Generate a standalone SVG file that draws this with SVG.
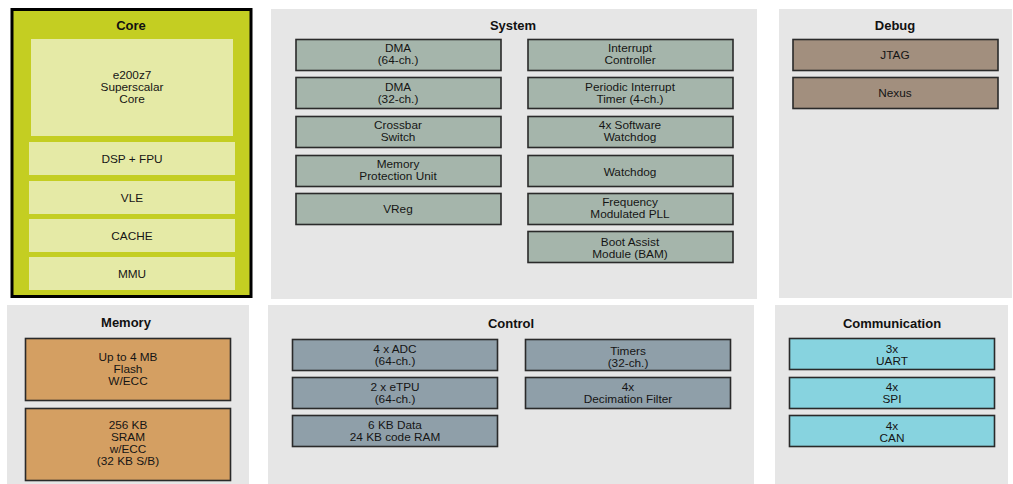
<svg xmlns="http://www.w3.org/2000/svg" width="1013" height="484" viewBox="0 0 1013 484">
<style>
.bg{fill:#ffffff}
.panel{fill:#e6e6e6}
.title{font-family:"Liberation Sans",Arial,sans-serif;font-size:13px;font-weight:bold;fill:#111;text-anchor:middle}
.lbl{font-family:"Liberation Sans",Arial,sans-serif;font-size:11.8px;fill:#151515;text-anchor:middle}
.box{stroke:#2a2a2a;stroke-width:1.6}
.sys{fill:#a5b5ab}
.dbg{fill:#a28f7e}
.mem{fill:#d49f62}
.ctl{fill:#8f9fa9}
.com{fill:#87d3df}
.cin{fill:#e5eaa6}
</style>
<rect class="bg" x="0" y="0" width="1013" height="484"/>

<g id="core">
  <rect x="12" y="9.5" width="239" height="287" fill="#c4ce22" stroke="#000" stroke-width="3"/>
  <text class="title" x="131" y="30">Core</text>
  <g id="core-e200"><rect class="cin" x="31" y="39" width="202" height="97"/>
    <text class="lbl" x="132" y="79">e200z7</text><text class="lbl" x="132" y="91">Superscalar</text><text class="lbl" x="132" y="103">Core</text></g>
  <g id="core-dsp"><rect class="cin" x="29" y="142" width="206" height="33"/><text class="lbl" x="132" y="163">DSP + FPU</text></g>
  <g id="core-vle"><rect class="cin" x="29" y="181" width="206" height="33"/><text class="lbl" x="132" y="202">VLE</text></g>
  <g id="core-cache"><rect class="cin" x="29" y="219" width="206" height="33"/><text class="lbl" x="132" y="240">CACHE</text></g>
  <g id="core-mmu"><rect class="cin" x="29" y="257" width="206" height="33"/><text class="lbl" x="132" y="278">MMU</text></g>
</g>

<g id="system">
  <rect class="panel" x="271" y="9" width="486" height="290"/>
  <text class="title" x="513" y="30">System</text>
  <g id="sys-dma64"><rect class="box sys" x="296" y="39.5" width="205" height="31"/><text class="lbl" x="398" y="52">DMA</text><text class="lbl" x="398" y="64">(64-ch.)</text></g>
  <g id="sys-dma32"><rect class="box sys" x="296" y="77.5" width="205" height="31"/><text class="lbl" x="398" y="91">DMA</text><text class="lbl" x="398" y="103">(32-ch.)</text></g>
  <g id="sys-xbar"><rect class="box sys" x="296" y="116.5" width="205" height="31"/><text class="lbl" x="398" y="129">Crossbar</text><text class="lbl" x="398" y="141">Switch</text></g>
  <g id="sys-mpu"><rect class="box sys" x="296" y="155.5" width="205" height="31"/><text class="lbl" x="398" y="168">Memory</text><text class="lbl" x="398" y="180">Protection Unit</text></g>
  <g id="sys-vreg"><rect class="box sys" x="296" y="193.5" width="205" height="31"/><text class="lbl" x="398" y="213">VReg</text></g>
  <g id="sys-intc"><rect class="box sys" x="528" y="39.5" width="205" height="31"/><text class="lbl" x="630" y="52">Interrupt</text><text class="lbl" x="630" y="64">Controller</text></g>
  <g id="sys-pit"><rect class="box sys" x="528" y="77.5" width="205" height="31"/><text class="lbl" x="630" y="91">Periodic Interrupt</text><text class="lbl" x="630" y="103">Timer (4-ch.)</text></g>
  <g id="sys-swt"><rect class="box sys" x="528" y="116.5" width="205" height="31"/><text class="lbl" x="630" y="129">4x Software</text><text class="lbl" x="630" y="141">Watchdog</text></g>
  <g id="sys-wdg"><rect class="box sys" x="528" y="155.5" width="205" height="31"/><text class="lbl" x="630" y="176">Watchdog</text></g>
  <g id="sys-pll"><rect class="box sys" x="528" y="193.5" width="205" height="31"/><text class="lbl" x="630" y="206">Frequency</text><text class="lbl" x="630" y="218">Modulated PLL</text></g>
  <g id="sys-bam"><rect class="box sys" x="528" y="231.5" width="205" height="31"/><text class="lbl" x="630" y="245.5">Boot Assist</text><text class="lbl" x="630" y="257.5">Module (BAM)</text></g>
</g>

<g id="debug">
  <rect class="panel" x="779" y="9" width="233" height="289"/>
  <text class="title" x="895" y="30">Debug</text>
  <g id="dbg-jtag"><rect class="box dbg" x="793" y="39.5" width="205" height="31"/><text class="lbl" x="895" y="59">JTAG</text></g>
  <g id="dbg-nexus"><rect class="box dbg" x="793" y="77.5" width="205" height="31"/><text class="lbl" x="895" y="97">Nexus</text></g>
</g>

<g id="memory">
  <rect class="panel" x="7" y="305" width="242" height="179"/>
  <text class="title" x="126" y="327">Memory</text>
  <g id="mem-flash"><rect class="box mem" x="25.5" y="338.5" width="205" height="62"/><text class="lbl" x="128" y="361">Up to 4 MB</text><text class="lbl" x="128" y="373">Flash</text><text class="lbl" x="128" y="385">W/ECC</text></g>
  <g id="mem-sram"><rect class="box mem" x="25.5" y="408.5" width="205" height="72"/><text class="lbl" x="128" y="429">256 KB</text><text class="lbl" x="128" y="441">SRAM</text><text class="lbl" x="128" y="453">w/ECC</text><text class="lbl" x="128" y="465">(32 KB S/B)</text></g>
</g>

<g id="control">
  <rect class="panel" x="268" y="305" width="486" height="179"/>
  <text class="title" x="511" y="328">Control</text>
  <g id="ctl-adc"><rect class="box ctl" x="292.5" y="339.5" width="205" height="31"/><text class="lbl" x="395" y="353">4 x ADC</text><text class="lbl" x="395" y="365">(64-ch.)</text></g>
  <g id="ctl-etpu"><rect class="box ctl" x="292.5" y="377.5" width="205" height="31"/><text class="lbl" x="395" y="391">2 x eTPU</text><text class="lbl" x="395" y="403">(64-ch.)</text></g>
  <g id="ctl-ram"><rect class="box ctl" x="292.5" y="415.5" width="205" height="31"/><text class="lbl" x="395" y="429">6 KB Data</text><text class="lbl" x="395" y="441">24 KB code RAM</text></g>
  <g id="ctl-timers"><rect class="box ctl" x="525.5" y="339.5" width="205" height="31"/><text class="lbl" x="628" y="355">Timers</text><text class="lbl" x="628" y="367">(32-ch.)</text></g>
  <g id="ctl-dec"><rect class="box ctl" x="525.5" y="377.5" width="205" height="31"/><text class="lbl" x="628" y="391">4x</text><text class="lbl" x="628" y="403">Decimation Filter</text></g>
</g>

<g id="communication">
  <rect class="panel" x="775" y="305" width="233" height="179"/>
  <text class="title" x="892" y="328">Communication</text>
  <g id="com-uart"><rect class="box com" x="789.5" y="338.5" width="205" height="31"/><text class="lbl" x="892" y="353">3x</text><text class="lbl" x="892" y="365">UART</text></g>
  <g id="com-spi"><rect class="box com" x="789.5" y="377.5" width="205" height="31"/><text class="lbl" x="892" y="391">4x</text><text class="lbl" x="892" y="403">SPI</text></g>
  <g id="com-can"><rect class="box com" x="789.5" y="415.5" width="205" height="31"/><text class="lbl" x="892" y="430">4x</text><text class="lbl" x="892" y="442">CAN</text></g>
</g>

<g id="connectors"></g>
</svg>
